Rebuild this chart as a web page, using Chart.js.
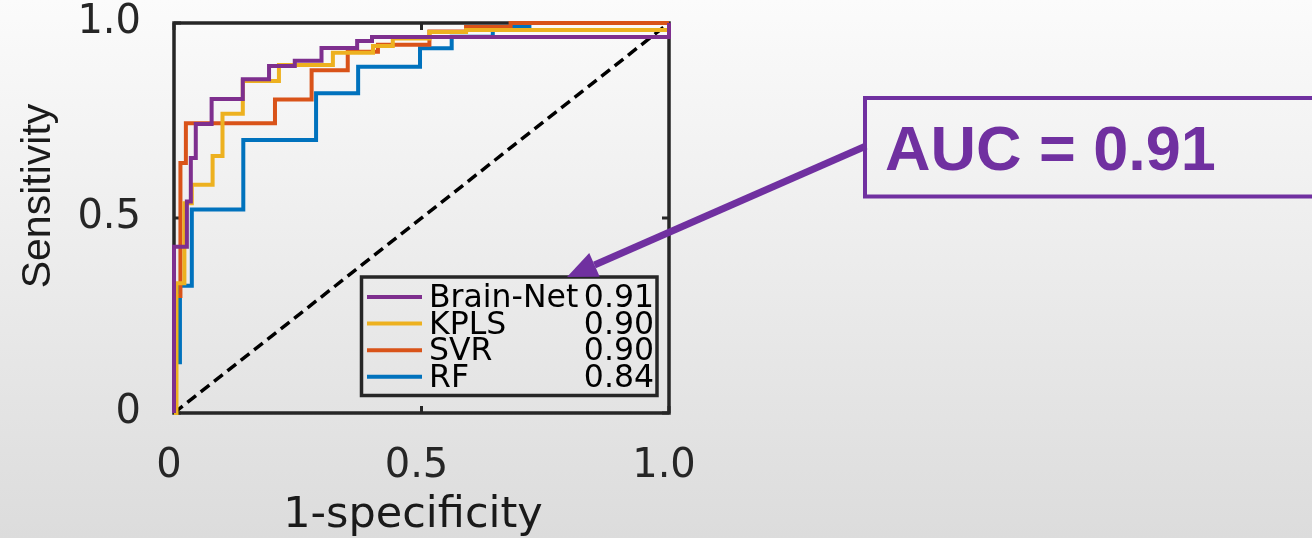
<!DOCTYPE html>
<html>
<head>
<meta charset="utf-8">
<script src="https://cdn.jsdelivr.net/npm/chart.js@4"></script>
<style>
  html, body { margin: 0; padding: 0; background: #e6e6e6; }
  #wrap { width: 1312px; height: 538px; }
</style>
</head>
<body>
<div id="wrap"><canvas id="roc" width="1312" height="538"></canvas></div>
<script>
// model names, AUC text and MATLAB default colours
const modelNames = ['Brain-Net', 'KPLS', 'SVR', 'RF'];
const aucValues = ['0.91', '0.90', '0.90', '0.84'];
const lineColors = ['#7E2F8E', '#EDB120', '#D95319', '#0072BD'];

// ROC steps: at fpr[i] the curve rises from tpr[i-1] to tpr[i]
const brainNetFpr = [0, 0, 0.026, 0.034, 0.044, 0.076, 0.139, 0.192, 0.244, 0.298, 0.370, 0.400, 1.0];
const brainNetTpr = [0, 0.426, 0.542, 0.654, 0.741, 0.805, 0.856, 0.890, 0.903, 0.936, 0.954, 0.964, 1.0];

const kplsFpr = [0, 0.005, 0.021, 0.036, 0.078, 0.098, 0.139, 0.212, 0.321, 0.402, 0.442, 0.516, 0.590, 1.0];
const kplsTpr = [0, 0.333, 0.538, 0.585, 0.659, 0.767, 0.851, 0.892, 0.924, 0.941, 0.960, 0.977, 0.982, 1.0];

const svrFpr = [0, 0.004, 0.013, 0.024, 0.204, 0.278, 0.351, 0.412, 0.516, 0.590, 0.680, 1.0];
const svrTpr = [0, 0.300, 0.641, 0.743, 0.804, 0.879, 0.926, 0.944, 0.978, 0.990, 1.0, 1.0];

const rfFpr = [0, 0.002, 0.012, 0.036, 0.140, 0.287, 0.372, 0.497, 0.561, 0.644, 0.684, 0.718, 1.0];
const rfTpr = [0, 0.130, 0.326, 0.522, 0.700, 0.820, 0.888, 0.935, 0.965, 0.982, 0.991, 1.0, 1.0];

const chanceX = [0, 1];
const chanceY = [0, 1];

const axisTicks = [0, 0.5, 1];
const tickLabels = ['0', '0.5', '1.0'];

const staircase = (fpr, tpr) => {
    const pts = [{ x: fpr[0], y: tpr[0] }];
    for (let i = 1; i < fpr.length; i++) {
        pts.push({ x: fpr[i], y: tpr[i - 1] });
        pts.push({ x: fpr[i], y: tpr[i] });
    }
    return pts;
};

const curves = [
    staircase(brainNetFpr, brainNetTpr),
    staircase(kplsFpr, kplsTpr),
    staircase(svrFpr, svrTpr),
    staircase(rfFpr, rfTpr)
];

const purple = '#7030A0';

const framePlugin = {
    id: 'frame',
    beforeDraw(chart) {
        const { ctx, width, height } = chart;
        const g = ctx.createLinearGradient(0, 0, 0, height);
        g.addColorStop(0, '#fbfbfb');
        g.addColorStop(1, '#dcdcdc');
        ctx.save();
        ctx.fillStyle = g;
        ctx.fillRect(0, 0, width, height);
        ctx.restore();
    },
    beforeDatasetsDraw(chart) {
        const { ctx, chartArea: a, scales: { x, y } } = chart;
        ctx.save();
        ctx.strokeStyle = '#262626';
        ctx.lineWidth = 3.5;
        ctx.strokeRect(a.left, a.top, a.right - a.left, a.bottom - a.top);
        ctx.lineWidth = 3;
        axisTicks.forEach(v => {
            const px = x.getPixelForValue(v);
            const py = y.getPixelForValue(v);
            ctx.beginPath();
            ctx.moveTo(px, a.bottom); ctx.lineTo(px, a.bottom - 7);
            ctx.moveTo(px, a.top); ctx.lineTo(px, a.top + 7);
            ctx.moveTo(a.left, py); ctx.lineTo(a.left + 7, py);
            ctx.moveTo(a.right, py); ctx.lineTo(a.right - 7, py);
            ctx.stroke();
        });
        ctx.restore();
    },
    afterDraw(chart) {
        const { ctx } = chart;
        ctx.save();

        // axis titles
        ctx.fillStyle = '#1a1a1a';
        ctx.font = '43px "DejaVu Sans"';
        ctx.textAlign = 'center';
        ctx.textBaseline = 'alphabetic';
        ctx.fillText('1-specificity', 413, 527);

        ctx.save();
        ctx.translate(50, 196);
        ctx.rotate(-Math.PI / 2);
        ctx.font = '41px "Liberation Sans"';
        ctx.fillText('Sensitivity', 0, 0);
        ctx.restore();

        // legend box inside the plot
        ctx.strokeStyle = '#262626';
        ctx.lineWidth = 3.5;
        ctx.strokeRect(361.5, 277, 295.5, 118.5);
        ctx.font = '31.5px "DejaVu Sans"';
        ctx.fillStyle = '#000';
        modelNames.forEach((name, i) => {
            const ly = 297 + i * 26.6;
            ctx.strokeStyle = lineColors[i];
            ctx.lineWidth = 4;
            ctx.beginPath();
            ctx.moveTo(367, ly);
            ctx.lineTo(422, ly);
            ctx.stroke();
            ctx.textAlign = 'left';
            ctx.fillText(name, 429, ly + 10);
            ctx.textAlign = 'right';
            ctx.fillText(aucValues[i], 654, ly + 10);
        });

        // callout box
        ctx.strokeStyle = purple;
        ctx.lineWidth = 4;
        ctx.strokeRect(865, 98, 470, 98.5);
        ctx.fillStyle = purple;
        ctx.font = 'bold 63px "Liberation Sans"';
        ctx.textAlign = 'left';
        ctx.fillText('AUC = 0.91', 885, 170);

        // arrow to the legend
        const sx = 866, sy = 146, tx = 567, ty = 277;
        const ang = Math.atan2(ty - sy, tx - sx);
        const headLen = 30, headW = 13;
        const bx = tx - headLen * Math.cos(ang);
        const by = ty - headLen * Math.sin(ang);
        ctx.lineWidth = 7;
        ctx.lineCap = 'butt';
        ctx.beginPath();
        ctx.moveTo(sx, sy);
        ctx.lineTo(bx, by);
        ctx.stroke();
        ctx.beginPath();
        ctx.moveTo(tx, ty);
        ctx.lineTo(bx + headW * Math.sin(ang), by - headW * Math.cos(ang));
        ctx.lineTo(bx - headW * Math.sin(ang), by + headW * Math.cos(ang));
        ctx.closePath();
        ctx.fill();

        ctx.restore();
    }
};

const rocDatasets = curves.map((pts, i) => ({
    label: modelNames[i],
    data: pts,
    borderColor: lineColors[i],
    borderWidth: 4,
    showLine: true,
    pointRadius: 0,
    fill: false,
    clip: 8
}));

rocDatasets.push({
    label: 'chance',
    data: chanceX.map((v, i) => ({ x: v, y: chanceY[i] })),
    borderColor: '#000000',
    borderWidth: 3.5,
    borderDash: [11, 6],
    showLine: true,
    pointRadius: 0,
    fill: false,
    clip: 8
});

const tickFont = { family: 'DejaVu Sans', size: 40, lineHeight: 1.2 };

new Chart(document.getElementById('roc').getContext('2d'), {
    type: 'scatter',
    data: { datasets: rocDatasets },
    options: {
        responsive: false,
        animation: false,
        devicePixelRatio: 1,
        layout: { padding: { top: 23, right: 643, bottom: 0, left: 0 } },
        plugins: { legend: { display: false }, tooltip: { enabled: false } },
        scales: {
            x: {
                type: 'linear',
                min: 0,
                max: 1,
                afterBuildTicks: s => { s.ticks = axisTicks.map(v => ({ value: v })); },
                afterFit: s => { s.height = 125; s.paddingLeft = 0; s.paddingRight = 0; },
                grid: { display: false, drawTicks: false },
                border: { display: false },
                ticks: {
                    callback: v => tickLabels[axisTicks.indexOf(v)],
                    font: tickFont,
                    color: '#262626',
                    padding: 30,
                    labelOffset: -5,
                    maxRotation: 0,
                    autoSkip: false
                }
            },
            y: {
                type: 'linear',
                min: 0,
                max: 1,
                afterBuildTicks: s => { s.ticks = axisTicks.map(v => ({ value: v })); },
                afterFit: s => { s.width = 174; s.paddingTop = 0; s.paddingBottom = 0; },
                grid: { display: false, drawTicks: false },
                border: { display: false },
                ticks: {
                    callback: v => tickLabels[axisTicks.indexOf(v)],
                    font: tickFont,
                    color: '#262626',
                    padding: 33,
                    autoSkip: false
                }
            }
        }
    },
    plugins: [framePlugin]
});
</script>
</body>
</html>
